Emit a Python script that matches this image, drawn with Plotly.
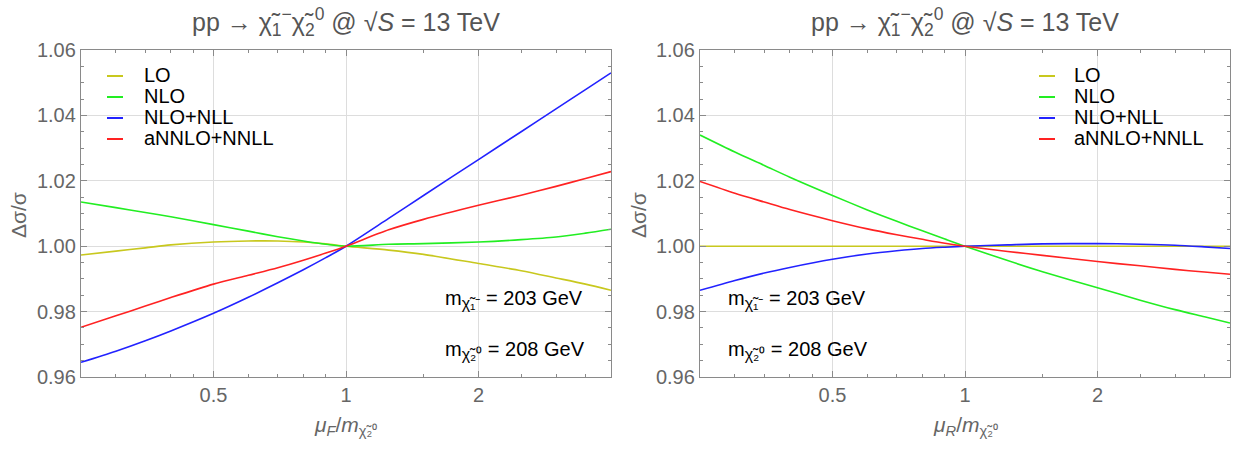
import plotly.graph_objects as go
import math

# ---------------- data ----------------
mu = [0.25, 0.3, 0.35, 0.4, 0.5, 0.6, 0.7, 0.8, 0.9, 1.0, 1.25, 1.5, 2.0, 2.5, 3.0, 3.5, 4.0]

# factorisation-scale variation (left panel)
lo_F      = [0.9973, 0.9985, 0.9995, 1.0004, 1.0013, 1.0016, 1.0016, 1.0013, 1.0007, 1.0, 0.9988, 0.9975, 0.9947, 0.9925, 0.9903, 0.9884, 0.9865]
nlo_F     = [1.0135, 1.0118, 1.0103, 1.0090, 1.0066, 1.0046, 1.0029, 1.0016, 1.0006, 1.0, 1.0006, 1.0008, 1.0013, 1.0020, 1.0028, 1.0040, 1.0052]
nlonll_F  = [0.9645, 0.9679, 0.9711, 0.9741, 0.9795, 0.9844, 0.9888, 0.9928, 0.9965, 1.0, 1.0085, 1.0155, 1.0265, 1.0350, 1.0420, 1.0479, 1.0530]
annlo_F   = [0.9752, 0.9787, 0.9817, 0.9843, 0.9884, 0.9911, 0.9934, 0.9957, 0.9979, 1.0, 1.0050, 1.0082, 1.0125, 1.0156, 1.0183, 1.0207, 1.0228]

# renormalisation-scale variation (right panel)
lo_R      = [1.0, 1.0, 1.0, 1.0, 1.0, 1.0, 1.0, 1.0, 1.0, 1.0, 1.0, 1.0, 1.0, 1.0, 1.0, 1.0, 1.0]
nlo_R     = [1.0340, 1.0288, 1.0247, 1.0211, 1.0155, 1.0111, 1.0076, 1.0047, 1.0022, 1.0, 0.9956, 0.9922, 0.9873, 0.9835, 0.9806, 0.9784, 0.9765]
nlonll_R  = [0.9865, 0.9895, 0.9918, 0.9935, 0.9960, 0.9976, 0.9986, 0.9993, 0.9997, 1.0, 1.0004, 1.0007, 1.0008, 1.0006, 1.0003, 0.9998, 0.9993]
annlo_R   = [1.0198, 1.0162, 1.0135, 1.0112, 1.0078, 1.0053, 1.0035, 1.0021, 1.0009, 1.0, 0.9984, 0.9972, 0.9953, 0.9940, 0.9929, 0.9921, 0.9914]

series_names = ["LO", "NLO", "NLO+NLL", "aNNLO+NNLL"]
colors = ["#c8c81e", "#22ee22", "#2222ff", "#ff2222"]

x_ticks = [0.5, 1, 2]
x_ticklabels = ["0.5", "1", "2"]
y_ticks = [0.96, 0.98, 1.00, 1.02, 1.04, 1.06]
y_ticklabels = ["0.96", "0.98", "1.00", "1.02", "1.04", "1.06"]
x_minor = [0.3, 0.35, 0.4, 0.45, 0.6, 0.7, 0.8, 0.9, 1.5, 2.5, 3, 3.5]

title_text = "pp → χ̃<sub>1</sub><sup>−</sup>χ̃<sub>2</sub><sup>0</sup> @ √<i>S</i> = 13 TeV"
mass1 = "m<sub><span style='font-size:16px'>χ̃₁⁻</span></sub> = 203 GeV"
mass2 = "m<sub><span style='font-size:16px'>χ̃₂⁰</span></sub> = 208 GeV"
xtitle_F = "<i>μ<sub>F</sub></i>/<i>m</i><sub>χ̃₂⁰</sub>"
xtitle_R = "<i>μ<sub>R</sub></i>/<i>m</i><sub>χ̃₂⁰</sub>"

# ---------------- figure ----------------
W, H = 1239, 454
FONT = "Liberation Sans, Arial, sans-serif"
GRAY = "#666666"

fig = go.Figure()

left = [lo_F, nlo_F, nlonll_F, annlo_F]
right = [lo_R, nlo_R, nlonll_R, annlo_R]
for name, col, yl, yr in zip(series_names, colors, left, right):
    fig.add_trace(go.Scatter(x=mu, y=yl, mode="lines", name=name,
                             line=dict(color=col, width=1.6, shape="spline", smoothing=0.8),
                             xaxis="x", yaxis="y", showlegend=False))
    fig.add_trace(go.Scatter(x=mu, y=yr, mode="lines", name=name,
                             line=dict(color=col, width=1.6, shape="spline", smoothing=0.8),
                             xaxis="x2", yaxis="y2", showlegend=False))

def px_x(p):
    return p / W

def px_y(p):
    return 1 - p / H

xdom1 = [px_x(81), px_x(611)]
xdom2 = [px_x(700), px_x(1230)]
ydom = [px_y(377), px_y(50)]

axis_common = dict(
    showline=True, linecolor="#8a8a8a", linewidth=1.3, mirror="allticks",
    ticks="inside", tickcolor="#8a8a8a", ticklen=6, tickwidth=1,
    showgrid=True, gridcolor="#dddddd", gridwidth=1, zeroline=False,
    tickfont=dict(family=FONT, size=20, color=GRAY), automargin=False,
)

xaxis_common = dict(axis_common, type="log", range=[math.log10(0.25), math.log10(4)],
                    tickmode="array", tickvals=x_ticks, ticktext=x_ticklabels,
                    minor=dict(tickmode="array", tickvals=x_minor, ticks="inside", ticklen=3,
                               tickcolor="#8a8a8a", showgrid=False))
yaxis_common = dict(axis_common, range=[0.96, 1.06], tickmode="array", tickvals=y_ticks,
                    ticktext=y_ticklabels,
                    minor=dict(dtick=0.005, ticks="inside", ticklen=3, tickcolor="#8a8a8a", showgrid=False))

fig.update_layout(
    width=W, height=H,
    margin=dict(l=0, r=0, t=0, b=0, autoexpand=False),
    paper_bgcolor="white", plot_bgcolor="white",
    font=dict(family=FONT, size=20, color="black"),
    xaxis=dict(xaxis_common, domain=xdom1, anchor="y"),
    yaxis=dict(yaxis_common, domain=ydom, anchor="x"),
    xaxis2=dict(xaxis_common, domain=xdom2, anchor="y2"),
    yaxis2=dict(yaxis_common, domain=ydom, anchor="x2"),
    showlegend=False,
)

ann = []
shapes = []
for cx, xt in [((81 + 611) / 2, xtitle_F), ((700 + 1230) / 2, xtitle_R)]:
    ann.append(dict(text=title_text, x=px_x(cx), y=px_y(22), xref="paper", yref="paper",
                    showarrow=False, font=dict(family=FONT, size=25, color="#555555"),
                    xanchor="center", yanchor="middle"))
    ann.append(dict(text=xt, x=px_x(cx), y=px_y(426), xref="paper", yref="paper",
                    showarrow=False, font=dict(family=FONT, size=21, color=GRAY),
                    xanchor="center", yanchor="middle"))
for lx in [18, 638]:
    ann.append(dict(text="Δσ/σ", x=px_x(lx), y=px_y(215), xref="paper", yref="paper",
                    showarrow=False, textangle=-90, font=dict(family=FONT, size=21, color=GRAY),
                    xanchor="center", yanchor="middle"))
for mx in [443, 726]:
    ann.append(dict(text=mass1, x=px_x(mx), y=px_y(299), xref="paper", yref="paper",
                    showarrow=False, font=dict(family=FONT, size=20, color="black"),
                    xanchor="left", yanchor="middle"))
    ann.append(dict(text=mass2, x=px_x(mx), y=px_y(350), xref="paper", yref="paper",
                    showarrow=False, font=dict(family=FONT, size=20, color="black"),
                    xanchor="left", yanchor="middle"))

# legends (one per panel): short coloured swatch + label
legend_rows = [75, 96, 117, 138]
for sw0, tx in [(107, 142), (1039, 1072)]:
    for name, col, ry in zip(series_names, colors, legend_rows):
        shapes.append(dict(type="line", xref="paper", yref="paper",
                           x0=px_x(sw0), x1=px_x(sw0 + 16), y0=px_y(ry + 1), y1=px_y(ry + 1),
                           line=dict(color=col, width=2)))
        ann.append(dict(text=name, x=px_x(tx), y=px_y(ry), xref="paper", yref="paper",
                        showarrow=False, font=dict(family=FONT, size=20, color="black"),
                        xanchor="left", yanchor="middle"))

fig.update_layout(annotations=ann, shapes=shapes)

fig.write_html("out.html", config={"displayModeBar": False},
               post_script="document.body.style.margin='0';")
